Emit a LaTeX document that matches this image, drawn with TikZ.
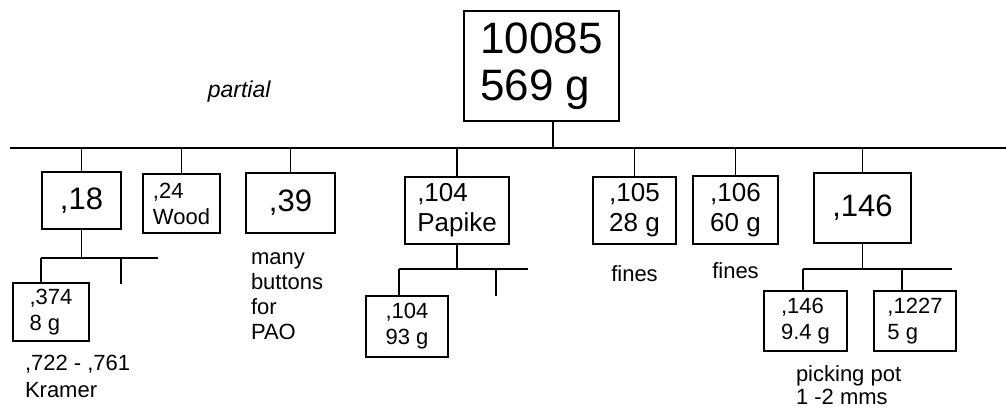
\documentclass[tikz,border=0pt]{standalone}
\usepackage{fontspec}
\setmainfont{Liberation Sans}
\usetikzlibrary{positioning}

\begin{document}
\begin{tikzpicture}[x=1pt, y=-1pt, line width=1.6pt]
    % Styles
    \tikzstyle{sample} = [rectangle, draw=black, inner sep=0pt, align=left]
    \tikzstyle{note} = [inner sep=0pt, align=left, font=\fontsize{22}{25}\selectfont]
    \tikzstyle{hugetext} = [font=\fontsize{44}{47}\selectfont]
    \tikzstyle{bigtext} = [font=\fontsize{31}{36}\selectfont]
    \tikzstyle{midtext} = [font=\fontsize{26}{30}\selectfont]
    \tikzstyle{smalltext} = [font=\fontsize{22}{26}\selectfont]

    \useasboundingbox (0,0) rectangle (1006,407);

    % Nodes
    \node (root) [sample, hugetext, minimum width=155, minimum height=110] at (541.5,66) {10085\\569 g};
    \node (b18) [sample, bigtext, minimum width=79, minimum height=57] at (81.5,200.5) {,18};
    \node (b24) [sample, smalltext, minimum width=77, minimum height=59] at (181.5,203.5) {,24\\Wood};
    \node (b39) [sample, bigtext, minimum width=89, minimum height=60] at (290.5,203) {,39};
    \node (b104) [sample, midtext, minimum width=104, minimum height=67] at (457,210.5) {,104\\Papike};
    \node (b105) [sample, midtext, minimum width=83, minimum height=67] at (634.5,210.5) {,105\\28 g};
    \node (b106) [sample, midtext, minimum width=85, minimum height=68] at (735.5,210) {,106\\60 g};
    \node (b146) [sample, bigtext, minimum width=97, minimum height=70] at (862.5,208) {,146};
    \node (b374) [sample, smalltext, minimum width=76, minimum height=58] at (51,312) {,374\\8 g};
    \node (b104s) [sample, smalltext, minimum width=82, minimum height=61] at (407,326.5) {,104\\93 g};
    \node (b146s) [sample, smalltext, minimum width=83, minimum height=60] at (805.5,321) {,146\\9.4 g};
    \node (b1227) [sample, smalltext, minimum width=82, minimum height=60] at (915,321) {,1227\\5 g};

    % Notes
    \node (partial) [note, anchor=base west, font=\fontsize{23}{25}\selectfont\itshape] at (207,97) {partial};
    \node (buttons) [note, below right=18pt and 5pt of b39.south west] {many\\buttons\\for\\PAO};
    \node (kramer) [note, below right=13pt and 12pt of b374.south west, font=\fontsize{22}{27}\selectfont] {,722 - ,761\\Kramer};
    \node (fines105) [note, below=20pt of b105] {fines};
    \node (fines106) [note, below=17pt of b106] {fines};
    \node (picking) [note, below right=13pt and 32pt of b146s.south west, font=\fontsize{22}{22.5}\selectfont] {picking pot\\1 -2 mms};

    % Lines
    \coordinate (trunkL) at (10,148);
    \coordinate (trunkR) at (1006,148);
    \coordinate (rootdrop) at ([xshift=11.5pt]root.south);
    \draw (trunkL) -- (trunkR);
    \draw (rootdrop) -- (rootdrop |- trunkL);
    \foreach \n in {b18,b24,b39,b104,b105,b106,b146}
        \draw (\n.north) -- (\n.north |- trunkL);

    \coordinate (bar18L) at (41,258);
    \coordinate (bar18R) at (158,258);
    \coordinate (tick18) at (121,284);
    \draw (b18.south) -- (b18.south |- bar18L);
    \draw (bar18L) -- (bar18R);
    \draw (bar18L) -- (bar18L |- b374.north);
    \draw (tick18 |- bar18L) -- (tick18);

    \coordinate (bar104L) at (399,269);
    \coordinate (bar104R) at (528,269);
    \coordinate (tick104) at (496,296);
    \draw (b104.south) -- (b104.south |- bar104L);
    \draw (bar104L) -- (bar104R);
    \draw (bar104L) -- (bar104L |- b104s.north);
    \draw (tick104 |- bar104L) -- (tick104);

    \coordinate (bar146L) at (803,269);
    \coordinate (bar146R) at (952,269);
    \coordinate (drop1227) at (902,269);
    \draw (b146.south) -- (b146.south |- bar146L);
    \draw (bar146L) -- (bar146R);
    \draw (bar146L) -- (bar146L |- b146s.north);
    \draw (drop1227) -- (drop1227 |- b1227.north);
\end{tikzpicture}
\end{document}
